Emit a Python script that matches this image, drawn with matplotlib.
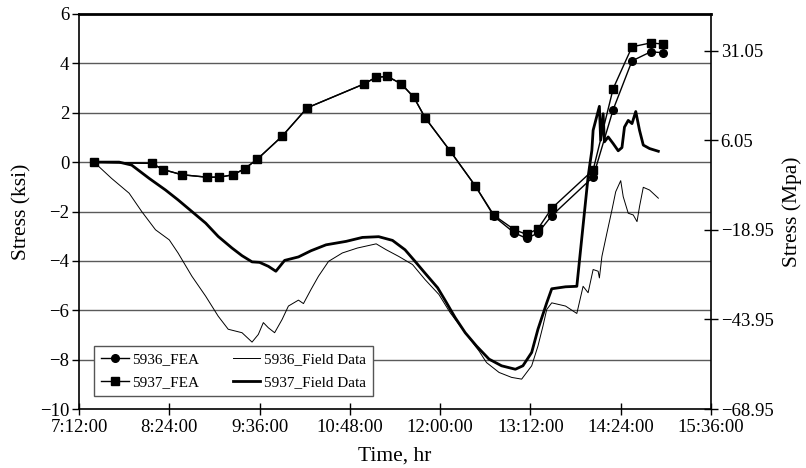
import matplotlib
matplotlib.use("Agg")
import matplotlib.pyplot as plt
import numpy as np

plt.rcParams['font.family'] = ['Liberation Serif', 'DejaVu Serif']

# times in minutes since midnight
fea_t = [444, 490, 499, 514, 534, 544, 555, 564, 574, 594, 614, 659, 669, 678,
         689, 699, 708, 728, 748, 763, 779, 789, 798, 809, 842, 858, 873, 888, 898]
fea_5937 = [0, -0.05, -0.3, -0.51, -0.61, -0.61, -0.51, -0.27, 0.11, 1.05, 2.2, 3.16,
            3.44, 3.47, 3.17, 2.63, 1.8, 0.45, -0.96, -2.16, -2.73, -2.93, -2.7,
            -1.87, -0.32, 2.98, 4.67, 4.83, 4.78]
fea_5936 = [0, -0.05, -0.3, -0.51, -0.61, -0.61, -0.51, -0.27, 0.11, 1.05, 2.2, 3.16,
            3.44, 3.47, 3.17, 2.63, 1.8, 0.45, -0.96, -2.2, -2.86, -3.09, -2.87,
            -2.17, -0.6, 2.13, 4.1, 4.47, 4.43]

f5937_t = [444, 464, 474, 488, 501, 511, 522, 533, 543, 554, 562, 570, 576, 583, 589,
           596, 607, 617, 629, 645, 658, 671, 682, 692, 700, 708, 718, 724, 732, 740,
           749, 759, 769, 780, 786, 793, 798, 805, 809, 820, 829, 838, 841, 842, 847,
           848, 850, 851, 854, 858, 862, 865, 867, 870, 873, 876, 879, 882, 887, 894]
f5937_v = [0, 0, -0.12, -0.66, -1.13, -1.53, -2.0, -2.47, -3.01, -3.48, -3.79, -4.04,
           -4.06, -4.22, -4.42, -3.98, -3.84, -3.59, -3.35, -3.21, -3.05, -3.02, -3.17,
           -3.55, -4.02, -4.5, -5.09, -5.6, -6.3, -6.91, -7.45, -7.98, -8.25, -8.39,
           -8.25, -7.71, -6.77, -5.7, -5.13, -5.05, -5.03, -0.59, 0.48, 1.29, 2.26,
           0.89, 1.96, 0.82, 1.02, 0.75, 0.46, 0.59, 1.42, 1.69, 1.56, 2.05, 1.29,
           0.69, 0.55, 0.44]

f5936_t = [444, 458, 472, 482, 493, 504, 511, 522, 533, 543, 551, 562, 570, 575, 579,
           583, 588, 594, 599, 607, 611, 617, 623, 631, 642, 654, 669, 677, 687, 698,
           708, 719, 728, 740, 751, 757, 767, 777, 785, 793, 798, 802, 805, 809, 820,
           829, 834, 838, 842, 846, 847, 849, 853, 857, 860, 864, 866, 870, 874, 877,
           879, 882, 887, 894]
f5936_v = [0, -0.66, -1.26, -2.0, -2.74, -3.15, -3.68, -4.62, -5.43, -6.24, -6.77,
           -6.91, -7.29, -6.98, -6.5, -6.71, -6.91, -6.37, -5.83, -5.59, -5.73, -5.16,
           -4.62, -4.02, -3.68, -3.48, -3.31, -3.55, -3.82, -4.15, -4.76, -5.36, -6.1,
           -6.91, -7.65, -8.12, -8.52, -8.72, -8.79, -8.25, -7.45, -6.64, -5.97, -5.7,
           -5.83, -6.13, -5.03, -5.29, -4.35, -4.42, -4.69, -3.82, -2.87, -1.94, -1.2,
           -0.75, -1.4, -2.07, -2.14, -2.41, -1.8, -1.02, -1.13, -1.46]

x_ticks = [432, 504, 576, 648, 720, 792, 864, 936]
x_labels = ["7:12:00", "8:24:00", "9:36:00", "10:48:00", "12:00:00",
            "13:12:00", "14:24:00", "15:36:00"]
y_ticks = [-10, -8, -6, -4, -2, 0, 2, 4, 6]
mpa_ticks = [-68.95, -43.95, -18.95, 6.05, 31.05]
KSI_TO_MPA = 6.895

fig = plt.figure(figsize=(8.06, 4.68), dpi=100)
ax = fig.add_axes([79/806, 1-409/468, (711-79)/806, (409-14)/468])

for yv in y_ticks[1:-1]:
    ax.axhline(yv, color='#5a5a5a', lw=1.0, zorder=0)

l1, = ax.plot(fea_t, fea_5936, color='black', lw=1.0, marker='o', ms=5.5, label='5936_FEA', zorder=3)
l2, = ax.plot(fea_t, fea_5937, color='black', lw=1.0, marker='s', ms=5.5, label='5937_FEA', zorder=3)
l3, = ax.plot(f5936_t, f5936_v, color='black', lw=0.7, label='5936_Field Data', zorder=2)
l4, = ax.plot(f5937_t, f5937_v, color='black', lw=2.0, label='5937_Field Data', zorder=2)

ax.set_xlim(432, 936)
ax.set_ylim(-10, 6)
ax.set_xticks(x_ticks)
ax.set_xticklabels(x_labels)
ax.set_yticks(y_ticks)
ax.set_yticklabels([str(v).replace('-', '\u2212') for v in y_ticks])
ax.tick_params(axis='x', direction='inout', length=8, width=1, labelsize=13.5, pad=3)
ax.tick_params(axis='y', direction='out', length=5, width=1, labelsize=13.5, pad=2)
for s in ['left', 'bottom', 'right']:
    ax.spines[s].set_linewidth(1.2)
ax.spines['top'].set_linewidth(2.0)
ax.set_xlabel('Time, hr', fontsize=15.5, labelpad=8)
ax.set_ylabel('Stress (ksi)', fontsize=15.5, labelpad=6)

ax2 = ax.twinx()
ax2.set_ylim(-10 * KSI_TO_MPA, 6 * KSI_TO_MPA)
ax2.set_yticks(mpa_ticks)
ax2.set_yticklabels([f"{v:.2f}".replace('-', '\u2212') for v in mpa_ticks])
ax2.tick_params(axis='y', direction='inout', length=10, width=1, labelsize=13.5, pad=2)
ax2.set_ylabel('Stress (Mpa)', fontsize=15.5, labelpad=6)
for s in ax2.spines.values():
    s.set_visible(False)

leg = ax.legend(handles=[l1, l2, l3, l4], ncol=2, loc='lower left',
                bbox_to_anchor=(0.024, 0.033), fontsize=11, frameon=True,
                fancybox=False, edgecolor='#555555', framealpha=1,
                handlelength=1.8, columnspacing=2.2, borderpad=0.45,
                labelspacing=0.6, handletextpad=0.25, borderaxespad=0)
leg.get_frame().set_linewidth(1.0)

fig.savefig('out.png', dpi=100)
